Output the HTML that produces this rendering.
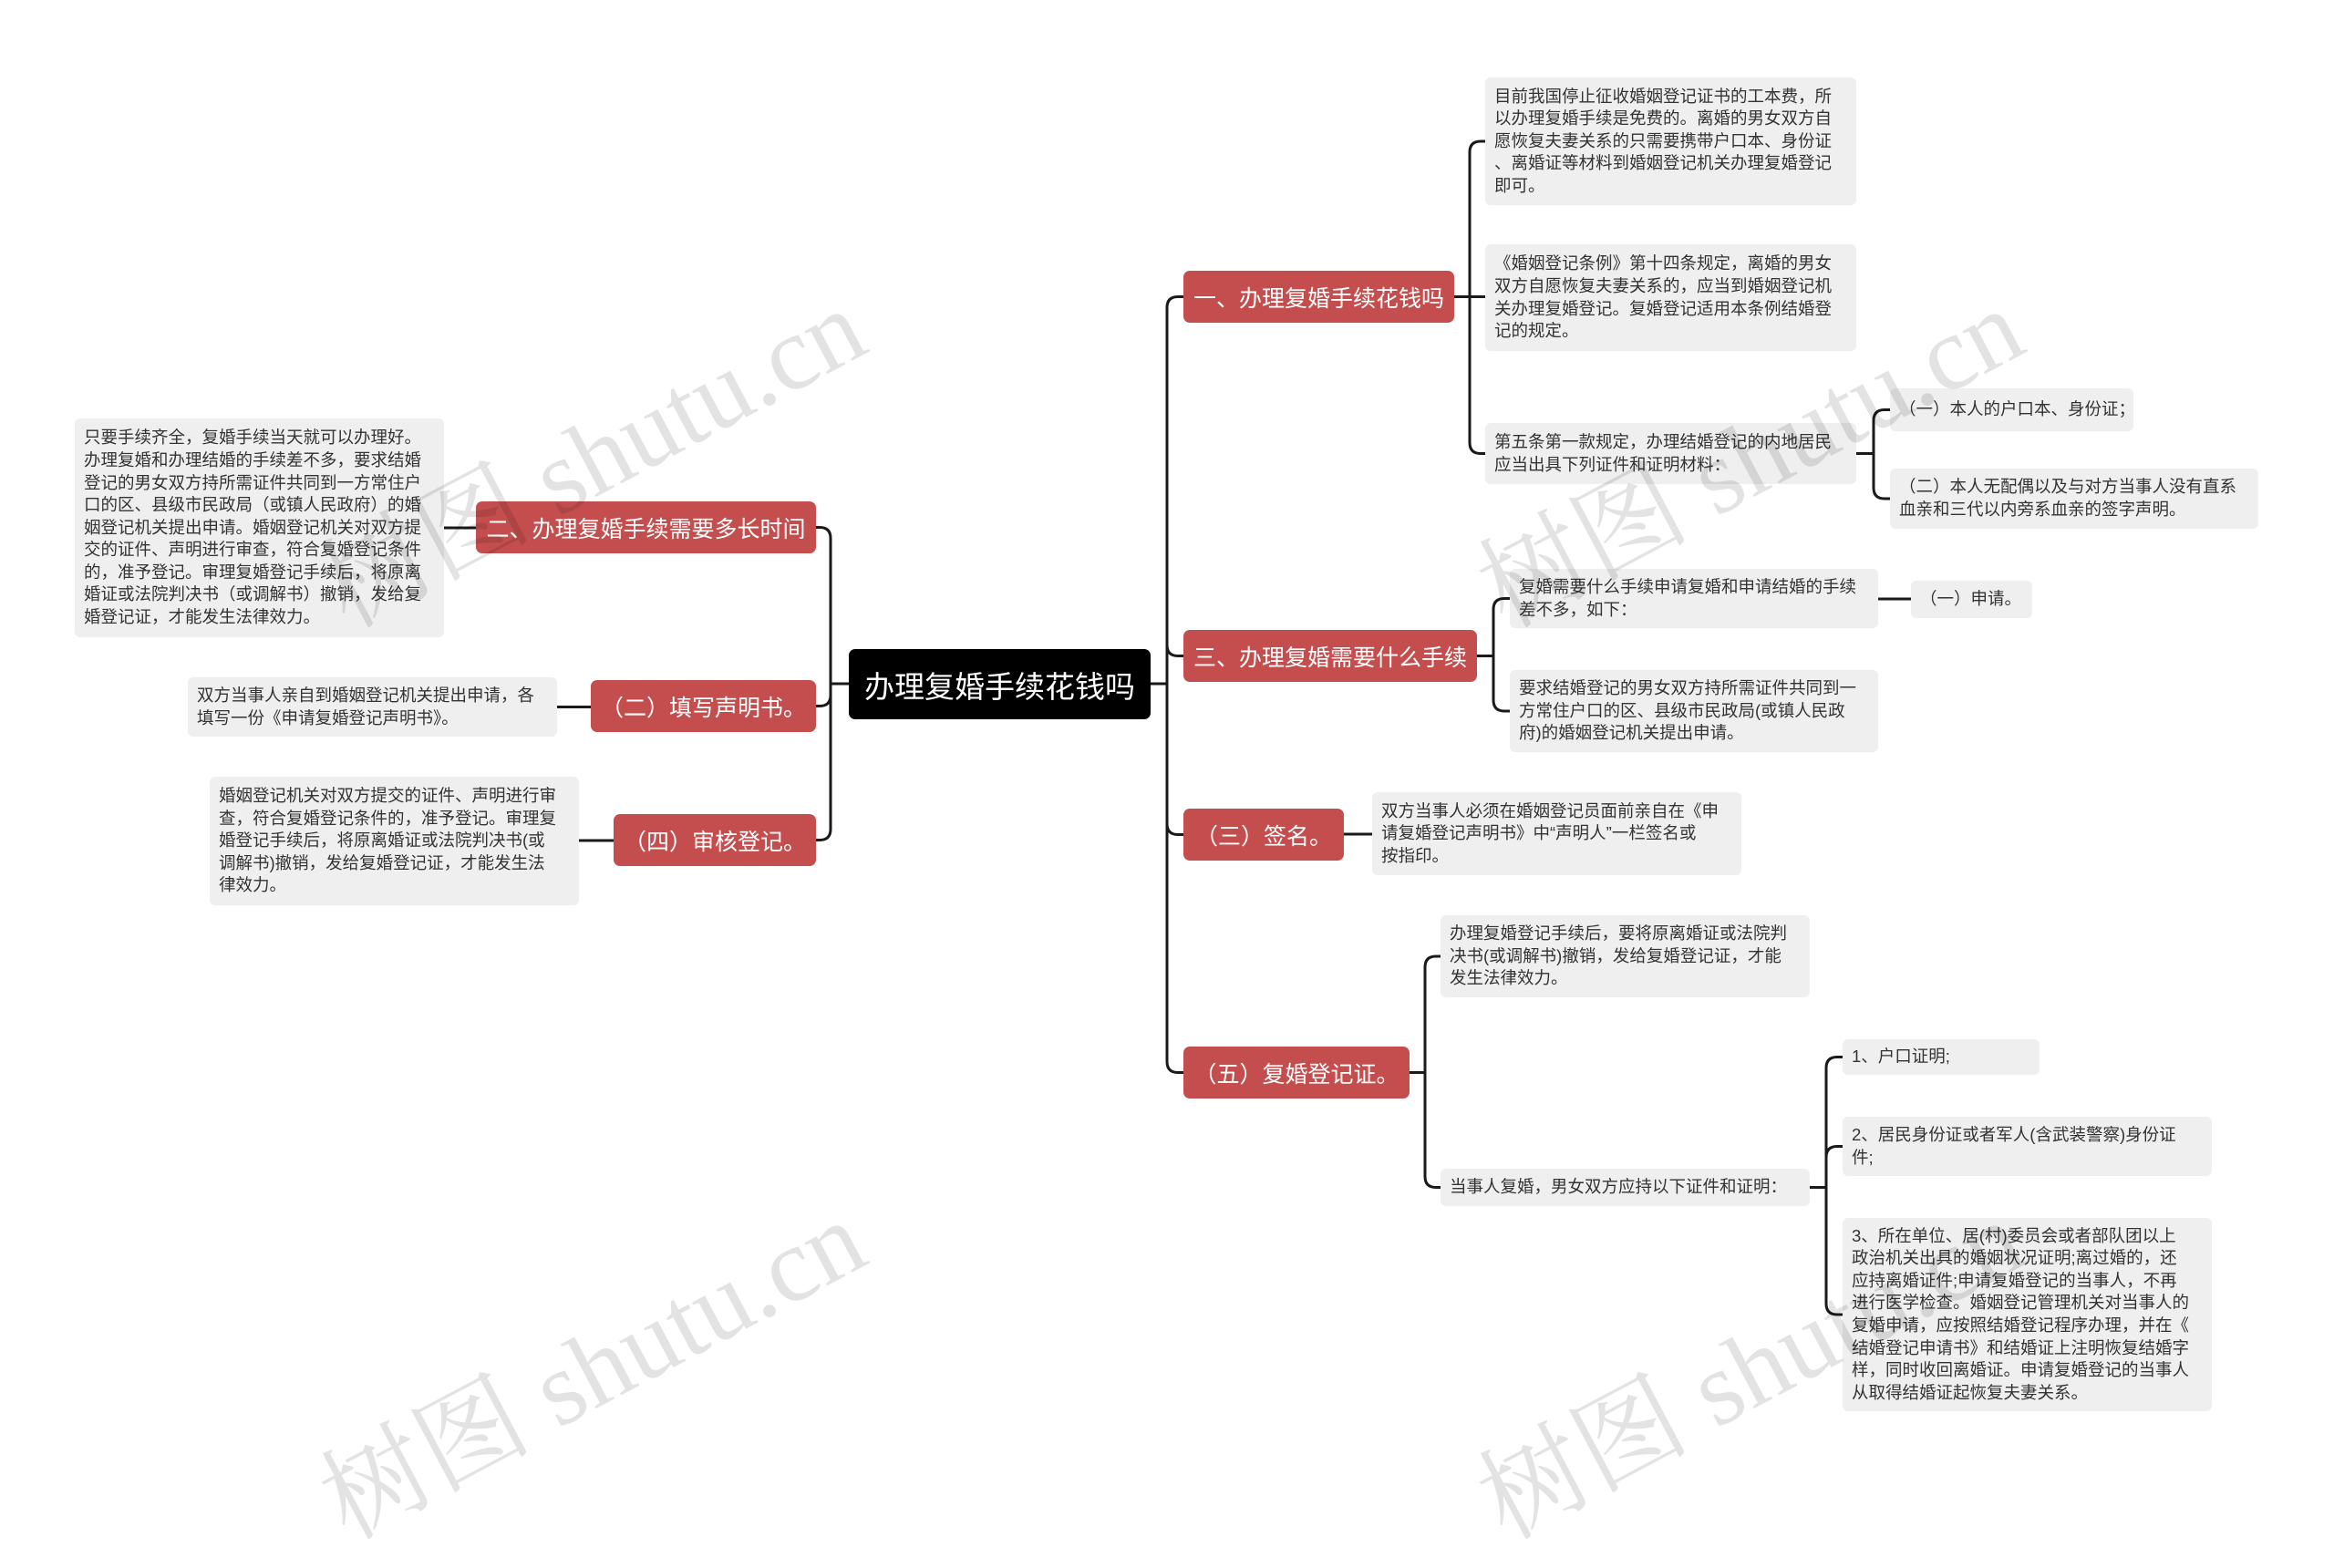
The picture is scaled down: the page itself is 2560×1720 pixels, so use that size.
<!DOCTYPE html>
<html><head><meta charset="utf-8">
<style>
*{margin:0;padding:0;box-sizing:border-box}
body{width:2560px;height:1634px;background:#fff;position:relative;overflow:hidden;font-family:"Liberation Sans","Noto Sans CJK SC",sans-serif}
.n{position:absolute;display:flex;align-items:center;white-space:nowrap}
.root{background:#000;color:#fff;font-size:33px;border-radius:7px;justify-content:center}
.r{background:#c44e4e;color:#fff;font-size:25px;border-radius:7px;justify-content:center}
.g{background:#efefef;color:#333;font-size:18.5px;line-height:24.6px;border-radius:6px;padding:0 10px}
.wm{position:absolute;font-family:"Liberation Serif","Noto Serif CJK SC",serif;font-size:116px;color:rgba(0,0,0,0.11);transform:rotate(-28deg);white-space:nowrap;transform-origin:center}
svg{position:absolute;left:0;top:0}
</style></head><body>
<svg width="2560" height="1634" fill="none" stroke="#1a1a1a" stroke-width="3">
<path d="M1262 750 H1280 V337.5 Q1280 325.5 1292 325.5 H1298"/>
<path d="M1262 750 H1280 V707.5 Q1280 719.5 1292 719.5 H1298"/>
<path d="M1262 750 H1280 V903.5 Q1280 915.5 1292 915.5 H1298"/>
<path d="M1262 750 H1280 V1164.5 Q1280 1176.5 1292 1176.5 H1298"/>
<path d="M931 750 H911 V590.5 Q911 578.5 899 578.5 H895"/>
<path d="M931 750 H911 V762.5 Q911 774.5 899 774.5 H895"/>
<path d="M931 750 H911 V909.5 Q911 921.5 899 921.5 H895"/>
<path d="M1595 325.5 H1612 V167 Q1612 155 1624 155 H1629"/>
<path d="M1595 325.5 H1629"/>
<path d="M1595 325.5 H1612 V485.5 Q1612 497.5 1624 497.5 H1629"/>
<path d="M2036 497.5 H2055 V461.5 Q2055 449.5 2067 449.5 H2073"/>
<path d="M2036 497.5 H2055 V535 Q2055 547 2067 547 H2073"/>
<path d="M1620 719.5 H1638 V668.5 Q1638 656.5 1650 656.5 H1656"/>
<path d="M1620 719.5 H1638 V768 Q1638 780 1650 780 H1656"/>
<path d="M2060 657 H2096"/>
<path d="M1474 915 H1505"/>
<path d="M1546 1176.5 H1563 V1061 Q1563 1049 1575 1049 H1580"/>
<path d="M1546 1176.5 H1563 V1290.5 Q1563 1302.5 1575 1302.5 H1580"/>
<path d="M1985 1302.5 H2003 V1171.5 Q2003 1159.5 2015 1159.5 H2021"/>
<path d="M1985 1302.5 H2003 V1269.5 Q2003 1257.5 2015 1257.5 H2021"/>
<path d="M1985 1302.5 H2003 V1430 Q2003 1442 2015 1442 H2021"/>
<path d="M522 579 H487"/>
<path d="M648 775.5 H611"/>
<path d="M673 922 H635"/>
</svg>

<div class="n root" style="left:931px;top:712px;width:331px;height:77px">办理复婚手续花钱吗</div>

<div class="n r" style="left:1298px;top:297px;width:297px;height:57px">一、办理复婚手续花钱吗</div>
<div class="n r" style="left:1298px;top:691px;width:322px;height:57px">三、办理复婚需要什么手续</div>
<div class="n r" style="left:1298px;top:887px;width:176px;height:57px">（三）签名。</div>
<div class="n r" style="left:1298px;top:1148px;width:248px;height:57px">（五）复婚登记证。</div>
<div class="n r" style="left:522px;top:550px;width:373px;height:57px">二、办理复婚手续需要多长时间</div>
<div class="n r" style="left:648px;top:746px;width:247px;height:57px">（二）填写声明书。</div>
<div class="n r" style="left:673px;top:893px;width:222px;height:57px">（四）审核登记。</div>

<div class="n g" style="left:1629px;top:85px;width:407px;height:140px">目前我国停止征收婚姻登记证书的工本费，所<br>以办理复婚手续是免费的。离婚的男女双方自<br>愿恢复夫妻关系的只需要携带户口本、身份证<br>、离婚证等材料到婚姻登记机关办理复婚登记<br>即可。</div>
<div class="n g" style="left:1629px;top:268px;width:407px;height:117px">《婚姻登记条例》第十四条规定，离婚的男女<br>双方自愿恢复夫妻关系的，应当到婚姻登记机<br>关办理复婚登记。复婚登记适用本条例结婚登<br>记的规定。</div>
<div class="n g" style="left:1629px;top:464px;width:407px;height:67px">第五条第一款规定，办理结婚登记的内地居民<br>应当出具下列证件和证明材料：</div>
<div class="n g" style="left:2073px;top:426px;width:267px;height:47px">（一）本人的户口本、身份证；</div>
<div class="n g" style="left:2073px;top:514px;width:404px;height:66px">（二）本人无配偶以及与对方当事人没有直系<br>血亲和三代以内旁系血亲的签字声明。</div>
<div class="n g" style="left:1656px;top:624px;width:404px;height:65px">复婚需要什么手续申请复婚和申请结婚的手续<br>差不多，如下：</div>
<div class="n g" style="left:2096px;top:637px;width:133px;height:41px">（一）申请。</div>
<div class="n g" style="left:1656px;top:735px;width:404px;height:90px">要求结婚登记的男女双方持所需证件共同到一<br>方常住户口的区、县级市民政局(或镇人民政<br>府)的婚姻登记机关提出申请。</div>
<div class="n g" style="left:1505px;top:869px;width:405px;height:91px">双方当事人必须在婚姻登记员面前亲自在《申<br>请复婚登记声明书》中“声明人”一栏签名或<br>按指印。</div>
<div class="n g" style="left:1580px;top:1004px;width:405px;height:90px">办理复婚登记手续后，要将原离婚证或法院判<br>决书(或调解书)撤销，发给复婚登记证，才能<br>发生法律效力。</div>
<div class="n g" style="left:1580px;top:1282px;width:405px;height:41px">当事人复婚，男女双方应持以下证件和证明：</div>
<div class="n g" style="left:2021px;top:1140px;width:216px;height:39px">1、户口证明;</div>
<div class="n g" style="left:2021px;top:1225px;width:405px;height:65px">2、居民身份证或者军人(含武装警察)身份证<br>件;</div>
<div class="n g" style="left:2021px;top:1336px;width:405px;height:212px">3、所在单位、居(村)委员会或者部队团以上<br>政治机关出具的婚姻状况证明;离过婚的，还<br>应持离婚证件;申请复婚登记的当事人，不再<br>进行医学检查。婚姻登记管理机关对当事人的<br>复婚申请，应按照结婚登记程序办理，并在《<br>结婚登记申请书》和结婚证上注明恢复结婚字<br>样，同时收回离婚证。申请复婚登记的当事人<br>从取得结婚证起恢复夫妻关系。</div>

<div class="n g" style="left:82px;top:459px;width:405px;height:240px">只要手续齐全，复婚手续当天就可以办理好。<br>办理复婚和办理结婚的手续差不多，要求结婚<br>登记的男女双方持所需证件共同到一方常住户<br>口的区、县级市民政局（或镇人民政府）的婚<br>姻登记机关提出申请。婚姻登记机关对双方提<br>交的证件、声明进行审查，符合复婚登记条件<br>的，准予登记。审理复婚登记手续后，将原离<br>婚证或法院判决书（或调解书）撤销，发给复<br>婚登记证，才能发生法律效力。</div>
<div class="n g" style="left:206px;top:743px;width:405px;height:65px">双方当事人亲自到婚姻登记机关提出申请，各<br>填写一份《申请复婚登记声明书》。</div>
<div class="n g" style="left:230px;top:852px;width:405px;height:141px">婚姻登记机关对双方提交的证件、声明进行审<br>查，符合复婚登记条件的，准予登记。审理复<br>婚登记手续后，将原离婚证或法院判决书(或<br>调解书)撤销，发给复婚登记证，才能发生法<br>律效力。</div>

<div class="wm" style="left:320px;top:410px">树图 shutu.cn</div>
<div class="wm" style="left:1590px;top:410px">树图 shutu.cn</div>
<div class="wm" style="left:320px;top:1410px">树图 shutu.cn</div>
<div class="wm" style="left:1590px;top:1410px">树图 shutu.cn</div>
</body></html>
